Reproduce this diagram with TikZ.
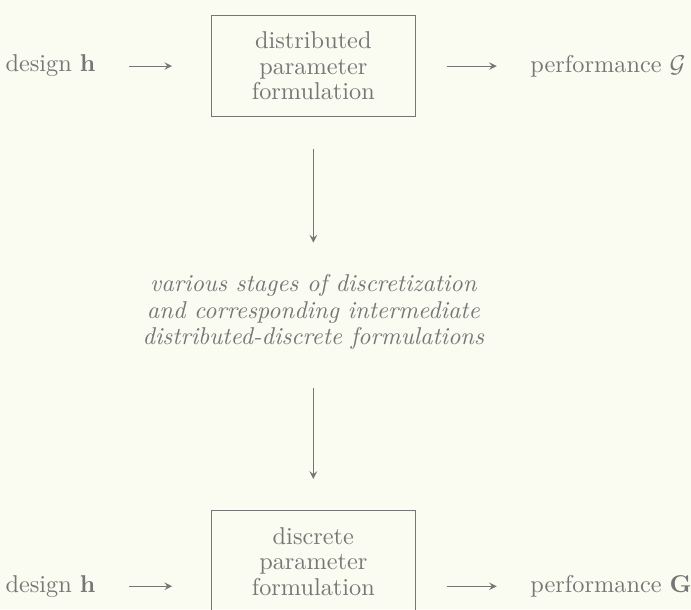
\documentclass[tikz,border=0pt]{standalone}
\usetikzlibrary{positioning}
\definecolor{paper}{RGB}{250,251,241}
\definecolor{ink}{RGB}{118,118,118}
\tikzset{
  formbox/.style={draw,minimum width=2.95cm,minimum height=1.47cm,align=center,inner sep=0pt,font=\fontsize{10}{10.5}\selectfont},
  lbl/.style={inner sep=0pt},
  stages/.style={inner sep=0pt,align=center,font=\fontsize{10}{11}\selectfont\itshape},
}
\begin{document}
\begin{tikzpicture}[>=stealth,ink]
\fill[paper](0,0)rectangle(9.99,-8.81);
\clip(0,0)rectangle(9.99,-8.81);
\node[formbox](dist) at (4.53,-.955){distributed\\parameter\\formulation};
\node[lbl,left=1.66cm of dist](hdist){design $\mathbf{h}$};
\node[lbl,right=1.65cm of dist](Gdist){performance $\mathcal{G}$};
\node[stages,below=2.26cm of dist](mid){various stages of discretization\\and corresponding intermediate\\distributed-discrete formulations};
\node[formbox,below=2.31cm of mid](disc){discrete\\parameter\\formulation};
\node[lbl,left=1.66cm of disc,yshift=-.36cm](hdisc){design $\mathbf{h}$};
\node[lbl,right=1.65cm of disc,yshift=-.36cm](Gdisc){performance $\mathbf{G}$};
\draw[->,shorten <=.48cm,shorten >=.56cm](hdist)--(dist);
\draw[->,shorten <=.45cm,shorten >=.48cm](dist)--(Gdist);
\draw[->,shorten <=.45cm,shorten >=.45cm](dist)--(mid);
\draw[->,shorten <=.55cm,shorten >=.45cm](mid)--(disc);
\draw[->,shorten <=.48cm,shorten >=.56cm](hdisc)--(hdisc-|disc.west);
\draw[->,shorten <=.45cm,shorten >=.48cm](disc.east|-Gdisc)--(Gdisc);
\end{tikzpicture}
\end{document}
